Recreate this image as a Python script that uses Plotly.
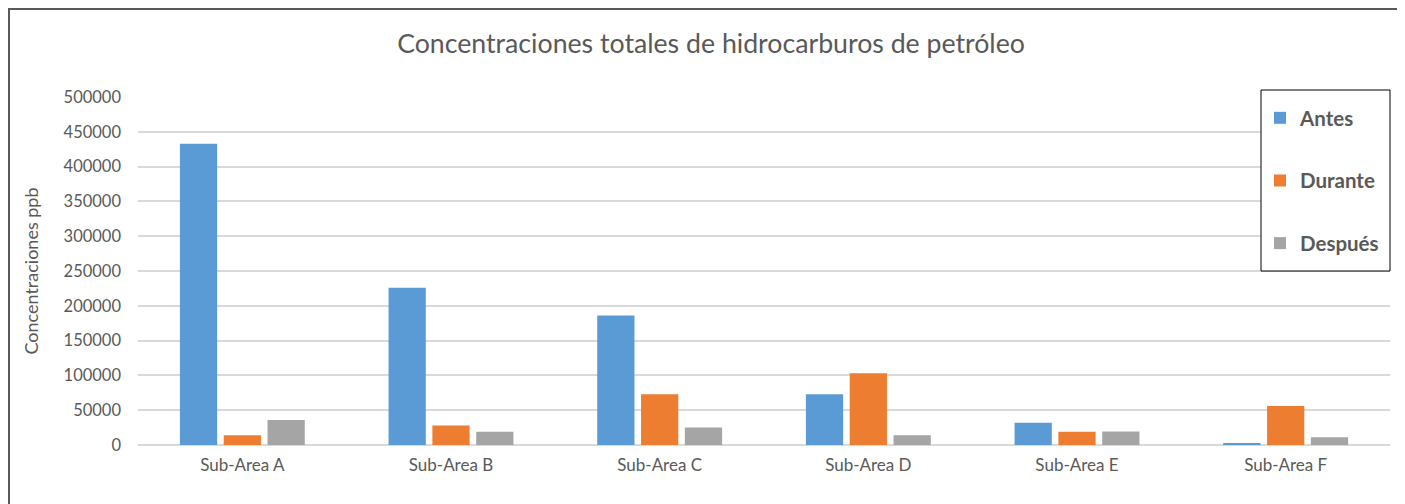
import plotly.graph_objects as go

categories = ["Sub-Area A", "Sub-Area B", "Sub-Area C", "Sub-Area D", "Sub-Area E", "Sub-Area F"]
antes = [433000, 226000, 186000, 73000, 32000, 3000]
durante = [14000, 28000, 73000, 103000, 19000, 56000]
despues = [36000, 19000, 25000, 14000, 19500, 11000]
y_ticks = [0, 50000, 100000, 150000, 200000, 250000, 300000, 350000, 400000, 450000, 500000]

OFF = 8  # page body margin
W, H = 1405 - OFF, 504 - OFF
# plot area in page coords: x 138..1390, y 97..445
L = 138 - OFF
T = 97 - OFF
R = W - (1390 - OFF)
B = H - (445 - OFF)
pw = W - L - R
ph = H - T - B

def px_x(x):  # page x -> paper
    return (x - OFF - L) / pw

def px_y(y):  # page y -> paper
    return (H - B - (y - OFF)) / ph

fig = go.Figure()
series = [("Antes", antes, "#5b9bd5"), ("Durante", durante, "#ed7d31"), ("Después", despues, "#a5a5a5")]
for name, vals, col in series:
    fig.add_trace(go.Bar(x=categories, y=vals, name=name, marker=dict(color=col, line=dict(width=0)),
                         legendgroup=name))

fig.update_layout(
    width=W, height=H,
    margin=dict(l=L, r=R, t=T, b=B, autoexpand=False),
    paper_bgcolor="white", plot_bgcolor="white",
    font=dict(family="Lato, 'Open Sans', sans-serif", color="#595959"),
    title=dict(text="Concentraciones totales de hidrocarburos de petróleo",
               x=(711 - OFF) / W, xref="container", xanchor="center",
               y=1 - (44 - OFF) / H, yref="container", yanchor="middle",
               font=dict(size=26.7, color="#595959")),
    barmode="group", bargap=0.37, bargroupgap=0.15,
    showlegend=True,
    legend=dict(x=px_x(1260), y=px_y(98), xanchor="left", yanchor="top",
                bgcolor="rgba(0,0,0,0)", borderwidth=0,
                font=dict(size=20.5, color="#595959", family="Lato, sans-serif", weight="bold"),
                tracegroupgap=33, traceorder="grouped"),
    xaxis=dict(showgrid=False, showline=False, ticks="", tickfont=dict(size=17, color="#595959"),
               ticklabelstandoff=8),
    yaxis=dict(range=[0, 500000], tickvals=y_ticks, ticktext=[str(v) for v in y_ticks],
               showgrid=True, gridcolor="#d9d9d9", gridwidth=1.5,
               zeroline=True, zerolinecolor="#d9d9d9", zerolinewidth=1.5,
               showline=False, ticks="", tickfont=dict(size=16.5, color="#595959"),
               ticklabelstandoff=16,
               title=dict(text="Concentraciones ppb", font=dict(size=18, color="#595959"), standoff=20)),
)

# legend frame
fig.add_shape(type="rect", xref="paper", yref="paper",
              x0=px_x(1261), x1=px_x(1390), y0=px_y(271), y1=px_y(90),
              line=dict(color="#000000", width=1), fillcolor="white", layer="above")

# outer chart border
fig.add_shape(type="rect", xref="paper", yref="paper",
              x0=px_x(9), x1=px_x(1398), y0=px_y(530), y1=px_y(9),
              line=dict(color="#595959", width=2), fillcolor="rgba(0,0,0,0)", layer="above")

fig.write_html("out.html")
